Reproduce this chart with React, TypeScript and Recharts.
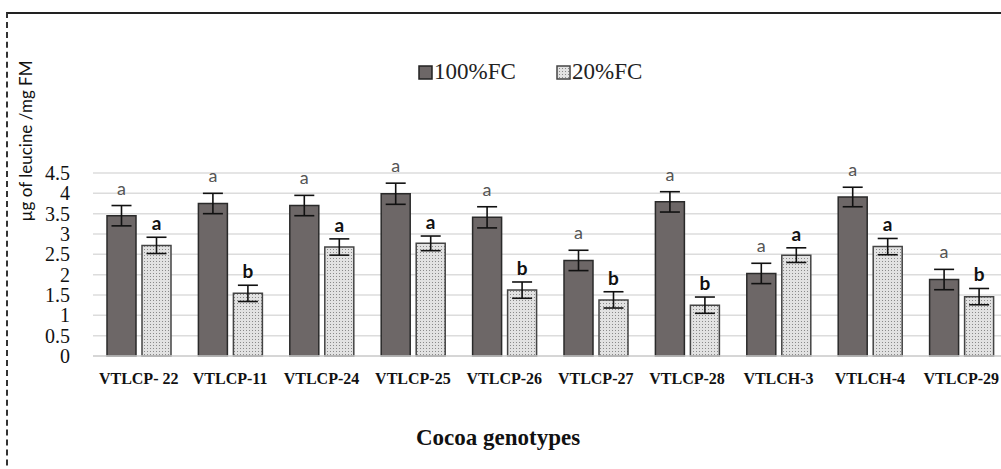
import React from 'react';
import {
  BarChart, Bar, XAxis, YAxis, CartesianGrid, Legend, ErrorBar, LabelList, Label,
} from 'recharts';

const genotypes = ['VTLCP- 22', 'VTLCP-11', 'VTLCP-24', 'VTLCP-25', 'VTLCP-26', 'VTLCP-27', 'VTLCP-28', 'VTLCH-3', 'VTLCH-4', 'VTLCP-29'];
const fc100 = [3.45, 3.75, 3.70, 3.99, 3.41, 2.35, 3.79, 2.03, 3.91, 1.88];
const fc100Err = [0.25, 0.25, 0.25, 0.26, 0.26, 0.25, 0.25, 0.25, 0.24, 0.25];
const fc100Sig = ['a', 'a', 'a', 'a', 'a', 'a', 'a', 'a', 'a', 'a'];
const fc20 = [2.72, 1.54, 2.68, 2.77, 1.62, 1.38, 1.25, 2.48, 2.69, 1.46];
const fc20Err = [0.2, 0.2, 0.2, 0.18, 0.2, 0.2, 0.2, 0.18, 0.2, 0.2];
const fc20Sig = ['a', 'b', 'a', 'a', 'b', 'b', 'b', 'a', 'a', 'b'];
const yTicks = [0, 0.5, 1, 1.5, 2, 2.5, 3, 3.5, 4, 4.5];

const data = genotypes.map((g, i) => ({
  name: g,
  fc100: fc100[i], fc100Err: fc100Err[i],
  fc20: fc20[i], fc20Err: fc20Err[i],
}));

const DARK = '#6d6767';
const serif = '"Liberation Serif", "Times New Roman", serif';
const sans = 'Lato, "Open Sans", sans-serif';

const sigLabel = (letters: string[], errs: number[], bold: boolean) => (props: any) => {
  const { x, y, width, height, value, index } = props;
  const errPx = value ? (height * errs[index]) / value : 0;
  return (
    <text
      x={x + width / 2}
      y={y - errPx - (bold ? 7 : 11)}
      textAnchor="middle"
      fontFamily={sans}
      fontSize={bold ? 19 : 18}
      fontWeight={bold ? 700 : 400}
      fill={bold ? '#111' : '#555'}
    >
      {letters[index]}
    </text>
  );
};

const YTick = (props: any) => {
  const { y, payload } = props;
  return (
    <text x={70} y={y + 7} textAnchor="end" fontFamily={serif} fontSize={20} fill="#111">
      {payload.value}
    </text>
  );
};

const XTick = (props: any) => {
  const { x, y, payload } = props;
  return (
    <text x={x} y={y + 20} textAnchor="middle" fontFamily={serif} fontSize={16} fontWeight={700} fill="#111">
      {payload.value}
    </text>
  );
};

const LegendBox = () => (
  <div style={{ display: 'flex', fontFamily: serif, fontSize: 23, color: '#222', lineHeight: '24px' }}>
    <div style={{ position: 'absolute', left: 418, display: 'flex', alignItems: 'center' }}>
      <svg width={15} height={15} style={{ marginRight: 1 }}>
        <rect x={1} y={1} width={13} height={13} fill={DARK} stroke="#222" strokeWidth={1.5} />
      </svg>
      <span>100%FC</span>
    </div>
    <div style={{ position: 'absolute', left: 556, display: 'flex', alignItems: 'center' }}>
      <svg width={15} height={15} style={{ marginRight: 1 }}>
        <defs>
          <pattern id="dotsLeg" width="3" height="3" patternUnits="userSpaceOnUse">
            <rect width="3" height="3" fill="#e2e2e2" />
            <rect width="1" height="1" fill="#8a8a8a" />
          </pattern>
        </defs>
        <rect x={1} y={1} width={13} height={13} fill="url(#dotsLeg)" stroke="#444" strokeWidth={1.5} />
      </svg>
      <span>20%FC</span>
    </div>
  </div>
);

export default function App() {
  return (
    <div style={{ position: 'absolute', left: 0, top: 0, width: 1001, height: 469, overflow: 'hidden', background: '#fff' }}>
      <div style={{ position: 'absolute', left: 6, top: 12, width: 1200, height: 700, borderTop: '2px solid #222', borderLeft: '2px dashed #333' }} />
      <div style={{ position: 'absolute', left: 0, top: 0 }}>
        <BarChart
          width={1010}
          height={469}
          data={data}
          margin={{ top: 149, right: 3, left: 0, bottom: 83 }}
          barSize={29}
          barGap={6}
        >
          <defs>
            <pattern id="dots" width="3" height="3" patternUnits="userSpaceOnUse">
              <rect width="3" height="3" fill="#e2e2e2" />
              <rect width="1" height="1" fill="#8a8a8a" />
            </pattern>
          </defs>
          <CartesianGrid vertical={false} stroke="#dcdcdc" strokeWidth={1.5} />
          <XAxis
            dataKey="name"
            height={30}
            tick={<XTick />}
            tickLine={false}
            axisLine={{ stroke: '#d0d0d0', strokeWidth: 1.5 }}
            interval={0}
          >
            <Label
              content={() => (
                <text x={498} y={445} textAnchor="middle" fontFamily={serif} fontSize={23} fontWeight={700} fill="#111">
                  Cocoa genotypes
                </text>
              )}
            />
          </XAxis>
          <YAxis
            width={93}
            domain={[0, 4.5]}
            ticks={yTicks}
            interval={0}
            tick={<YTick />}
            tickLine={false}
            axisLine={false}
          >
            <Label
              content={() => (
                <text
                  x={0}
                  y={0}
                  transform="translate(32,141) rotate(-90)"
                  textAnchor="middle"
                  fontFamily={sans}
                  fontSize={17}
                  fill="#111"
                >
                  µg of leucine /mg FM
                </text>
              )}
            />
          </YAxis>
          <Legend verticalAlign="top" content={<LegendBox />} wrapperStyle={{ top: 60, left: 0, width: 1001, height: 24 }} />
          <Bar dataKey="fc100" name="100%FC" fill={DARK} stroke="#2a2a2a" strokeWidth={1.5} isAnimationActive={false}>
            <ErrorBar dataKey="fc100Err" width={10} stroke="#111" strokeWidth={1.6} isAnimationActive={false} />
            <LabelList dataKey="fc100" content={sigLabel(fc100Sig, fc100Err, false)} />
          </Bar>
          <Bar dataKey="fc20" name="20%FC" fill="url(#dots)" stroke="#444" strokeWidth={1.5} isAnimationActive={false}>
            <ErrorBar dataKey="fc20Err" width={10} stroke="#111" strokeWidth={1.6} isAnimationActive={false} />
            <LabelList dataKey="fc20" content={sigLabel(fc20Sig, fc20Err, true)} />
          </Bar>
        </BarChart>
      </div>
    </div>
  );
}
